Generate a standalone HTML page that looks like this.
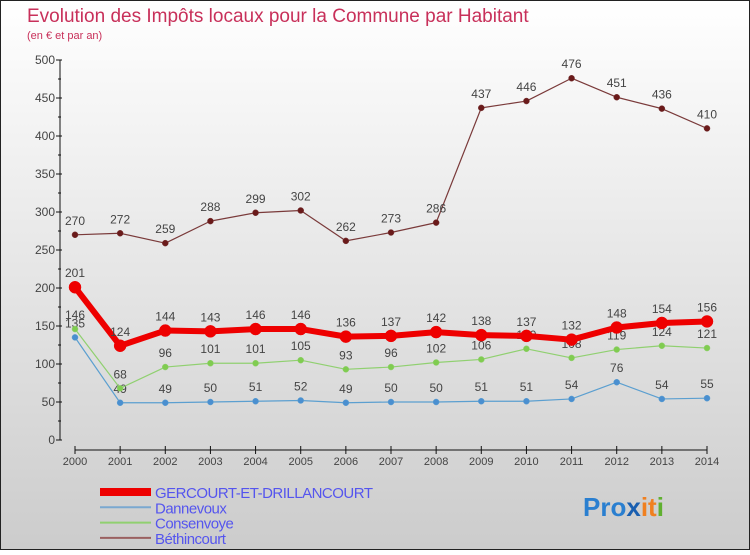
<!DOCTYPE html>
<html><head><meta charset="utf-8"><style>
body{margin:0}
#c{width:750px;height:550px;position:relative;font-family:"Liberation Sans",sans-serif}
</style></head><body>
<div id="c">
<svg width="750" height="550">
<defs><linearGradient id="bg" x1="0" y1="0" x2="0" y2="1"><stop offset="0" stop-color="#ffffff"/><stop offset="1" stop-color="#cccccc"/></linearGradient></defs>
<rect x="0.5" y="0.5" width="749" height="549" fill="url(#bg)" stroke="#222"/>
<text x="27" y="22" font-size="19" fill="#c8305a">Evolution des Impôts locaux pour la Commune par Habitant</text>
<text x="27" y="39" font-size="11" fill="#c8305a">(en € et par an)</text>
<g id="axes"></g><g id="series"></g><g id="legend"></g>
<text x="583" y="516" font-size="26" font-weight="bold"><tspan fill="#2a7fd0">Pro</tspan><tspan fill="#1a5fb0">x</tspan><tspan fill="#f08020">it</tspan><tspan fill="#60b030">i</tspan></text>
</svg></div>
<script>
const years=[2000,2001,2002,2003,2004,2005,2006,2007,2008,2009,2010,2011,2012,2013,2014];
const yTicks=[0,50,100,150,200,250,300,350,400,450,500];
const gercourt=[201,124,144,143,146,146,136,137,142,138,137,132,148,154,156];
const dannevoux=[135,49,49,50,51,52,49,50,50,51,51,54,76,54,55];
const consenvoye=[146,68,96,101,101,105,93,96,102,106,120,108,119,124,121];
const bethincourt=[270,272,259,288,299,302,262,273,286,437,446,476,451,436,410];
const NS='http://www.w3.org/2000/svg';
const x=i=>75+i*(707-75)/14, y=v=>440-v*380/500;
function mk(t,a,p){const e=document.createElementNS(NS,t);for(const k in a)e.setAttribute(k,a[k]);p.appendChild(e);return e;}
const ax=document.getElementById('axes');
let l=mk('line',{x1:60,y1:y(500),x2:60,y2:440,stroke:'#111'},ax);


l=mk('line',{x1:75,y1:450,x2:707,y2:450,stroke:'#111'},ax);


yTicks.forEach(v=>{mk('line',{x1:56,y1:y(v),x2:62,y2:y(v),stroke:'#111'},ax);
 if(v<500)mk('line',{x1:58,y1:y(v+25),x2:61,y2:y(v+25),stroke:'#111'},ax);
 const t=mk('text',{x:55,y:y(v)+4,'font-size':12,fill:'#444','text-anchor':'end'},ax);t.textContent=v;
 
 });
years.forEach((yr,i)=>{mk('line',{x1:x(i),y1:446,x2:x(i),y2:454,stroke:'#111'},ax);
 const t=mk('text',{x:x(i),y:465,'font-size':11,fill:'#444','text-anchor':'middle'},ax);t.textContent=yr;
 
 });
const sg=document.getElementById('series');
function draw(d,name,col,w,r,dot){const g=mk('g',{},sg);
 
 
 mk('polyline',{points:d.map((v,i)=>x(i)+','+y(v)).join(' '),fill:'none',stroke:col,'stroke-width':w,'stroke-linejoin':'round'},g);
 d.forEach((v,i)=>{const c=mk('circle',{cx:x(i),cy:y(v),r:r,fill:dot,stroke:col,'stroke-width':0.5},g);
  
  
  const t=mk('text',{x:x(i),y:y(v)-10,'font-size':12,fill:'#444','text-anchor':'middle'},g);t.textContent=v;
  
  });}
draw(bethincourt,'bethincourt','#7a3a3a',1.2,3,'#6a1a1a');
draw(dannevoux,'dannevoux','#5b9fd0',1.2,3,'#4a8fd0');
draw(consenvoye,'consenvoye','#90d070',1.2,3,'#80cc50');
draw(gercourt,'gercourt','#ee0000',6,6,'#ee0000');
const lg=document.getElementById('legend');
[['GERCOURT-ET-DRILLANCOURT','#ee0000',8],['Dannevoux','#7aa8d0',2],['Consenvoye','#90d070',2],['Béthincourt','#9a6060',2]].forEach((s,i)=>{
 const yy=492+i*15.3;
 const ln=mk('line',{x1:100,y1:yy,x2:151,y2:yy,stroke:s[1],'stroke-width':s[2]},lg);
 
 
 const t=mk('text',{x:155,y:yy+6,'font-size':15,fill:'#5555ee','letter-spacing':'-0.5'},lg);t.textContent=s[0];
 
 });
</script>
</body></html>
